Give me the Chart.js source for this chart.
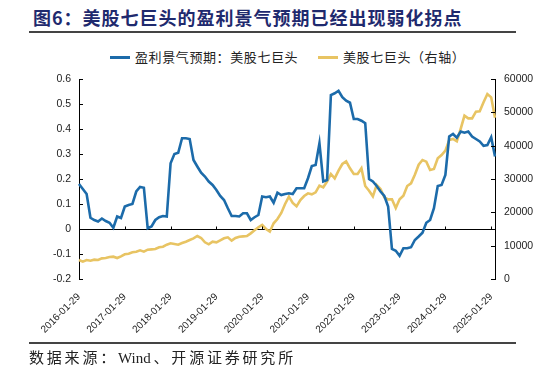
<!DOCTYPE html>
<html>
<head>
<meta charset="utf-8">
<script src="https://cdn.jsdelivr.net/npm/chart.js@4.4.1/dist/chart.umd.min.js"></script>
<style>
  body { margin: 0; background: #fff; }
  #wrap { position: relative; width: 546px; height: 374px; overflow: hidden; font-family: "Noto Sans CJK SC", sans-serif; }
  #titulo { position: absolute; left: 33px; top: 4px; font-size: 18px; font-weight: bold; color: #1f2a6e; letter-spacing: 1px; white-space: nowrap; }
  .regla { position: absolute; left: 29px; width: 487px; height: 1.5px; background: #444; }
  #leyenda { position: absolute; top: 47px; left: 0; width: 546px; font-size: 13px; letter-spacing: 0.6px; color: #222; white-space: nowrap; }
  #leyenda span.item { position: absolute; top: 0; }
  #leyenda i { display: inline-block; width: 20px; height: 3px; vertical-align: middle; margin-right: 5px; position: relative; top: -1px; }
  #fuente { position: absolute; left: 29px; top: 346px; font-size: 15px; color: #222; letter-spacing: 2.8px; white-space: nowrap; }
  #fuente b { font-family: "Liberation Serif", serif; font-weight: normal; letter-spacing: 0; margin-right: 2.8px; }
  canvas { position: absolute; left: 0; top: 0; }
</style>
</head>
<body>
<div id="wrap">
  <div id="titulo">图6：美股七巨头的盈利景气预期已经出现弱化拐点</div>
  <div class="regla" style="top:31px"></div>
  <div id="leyenda">
    <span class="item" style="left:110px"><i style="background:#1c6baa"></i>盈利景气预期：美股七巨头</span>
    <span class="item" style="left:318px"><i style="background:#e8c463"></i>美股七巨头（右轴）</span>
  </div>
  <canvas id="ch" width="546" height="374"></canvas>
  <div class="regla" style="top:342px"></div>
  <div id="fuente">数据来源：<b>Wind</b>、开源证券研究所</div>
</div>
<script>
(function () {
  'use strict';

  var AZUL = '#1c6baa';
  var AMARILLO = '#e8c463';

  // etiquetas del eje x que se muestran
  var YEAR_TICKS = ['2016-01-29', '2017-01-29', '2018-01-29', '2019-01-29', '2020-01-29',
    '2021-01-29', '2022-01-29', '2023-01-29', '2024-01-29', '2025-01-29'];

  //盈利景气预期：美股七巨头 (eje izquierdo), mensual desde 2016-01
  var EXPECTATIVA = [
    0.18, 0.16, 0.14, 0.045, 0.036, 0.03, 0.042, 0.032, 0.025, 0.005, 0.05, 0.044,
    0.09, 0.096, 0.10, 0.15, 0.168, 0.165, 0.003, 0.01, 0.036, 0.047, 0.052, 0.05,
    0.263, 0.30, 0.305, 0.363, 0.363, 0.36, 0.276, 0.25, 0.225, 0.21, 0.19, 0.176,
    0.156, 0.132, 0.116, 0.083, 0.052, 0.052, 0.05, 0.063, 0.063, 0.036, 0.047, 0.056,
    0.13, 0.127, 0.13, 0.105, 0.145, 0.136, 0.14, 0.143, 0.14, 0.163, 0.163, 0.163,
    0.203, 0.252, 0.256, 0.343, 0.19, 0.196, 0.536, 0.543, 0.553, 0.527, 0.513, 0.505,
    0.44, 0.44, 0.433, 0.423, 0.20, 0.19, 0.172, 0.15, 0.132, 0.09, -0.08, -0.087,
    -0.107, -0.077, -0.077, -0.073, -0.044, -0.03, -0.015, 0.025, 0.036, 0.083, 0.172, 0.176,
    0.216, 0.37, 0.38, 0.365, 0.39, 0.385, 0.39, 0.37, 0.36, 0.35, 0.333, 0.336,
    0.367, 0.29
  ];

  // 美股七巨头 (eje derecho)
  var INDICE = [
    5700, 5200, 5700, 5500, 5800, 5700, 6200, 6300, 6600, 6700, 6300, 6800,
    7400, 7600, 8000, 8200, 8600, 8200, 8800, 8900, 9000, 9500, 9700, 10300,
    10700, 10500, 10300, 10800, 11200, 11700, 12200, 12900, 12300, 11000, 10400, 11200,
    11000, 11600, 12200, 12500, 11500, 12300, 12700, 12800, 12900, 13700, 14600, 15500,
    16200, 15000, 14200, 16700, 18000, 19800, 22500, 24700, 22800, 21800, 23700, 24900,
    25700, 25400, 26000, 28000, 27500, 29200, 31500, 30200, 32500, 34500, 35300, 33200,
    31500, 31500, 33200, 27900, 26500, 24800, 28200, 27000, 24500, 23900, 23900, 21300,
    23900, 25000, 27900, 28700, 31300, 34300, 35700, 35200, 32700, 33000, 36200, 37200,
    38500, 41700, 42000, 41300, 45000, 49000, 48200, 48200, 50200, 50300, 53000, 55500,
    54500, 48400
  ];

  // fechas mensuales (dia 29) para el eje de categorias
  var FECHAS = [];
  for (var k = 0; k < EXPECTATIVA.length; k++) {
    var anio = 2016 + Math.floor(k / 12);
    var mes = (k % 12) + 1;
    FECHAS.push(anio + '-' + (mes < 10 ? '0' + mes : mes) + '-29');
  }

  // marcas hacia dentro en los ejes y marcas sobre la linea del cero
  var marcas = {
    id: 'marcas',
    afterDraw: function (chart) {
      var c = chart.ctx, a = chart.chartArea;
      var yl = chart.scales.y, yr = chart.scales.y2, x = chart.scales.x;
      c.save();
      c.strokeStyle = '#000';
      c.lineWidth = 1;
      c.beginPath();
      yl.ticks.forEach(function (t) {
        var p = Math.round(yl.getPixelForValue(t.value)) + 0.5;
        c.moveTo(a.left, p); c.lineTo(a.left + 4, p);
      });
      yr.ticks.forEach(function (t) {
        var p = Math.round(yr.getPixelForValue(t.value)) + 0.5;
        c.moveTo(a.right, p); c.lineTo(a.right - 4, p);
      });
      var y0 = Math.round(yl.getPixelForValue(0)) + 0.5;
      YEAR_TICKS.forEach(function (lab) {
        var i = FECHAS.indexOf(lab);
        if (i < 0) return;
        var px = Math.round(x.getPixelForValue(i)) + 0.5;
        c.moveTo(px, y0); c.lineTo(px, y0 - 3);
      });
      c.stroke();
      c.restore();
    }
  };

  new Chart(document.getElementById('ch'), {
    type: 'line',
    data: {
      labels: FECHAS,
      datasets: [
        { label: '盈利景气预期：美股七巨头', data: EXPECTATIVA, yAxisID: 'y', borderColor: AZUL, borderWidth: 2.6, pointRadius: 0, tension: 0 },
        { label: '美股七巨头（右轴）', data: INDICE, yAxisID: 'y2', borderColor: AMARILLO, borderWidth: 2.6, pointRadius: 0, tension: 0 }
      ]
    },
    options: {
      responsive: false,
      animation: false,
      devicePixelRatio: 1,
      layout: { padding: { top: 79, left: 0, right: 0, bottom: 0 } },
      plugins: { legend: { display: false }, tooltip: { enabled: false } },
      scales: {
        x: {
          grid: { display: false },
          border: { display: false },
          afterFit: function (s) { s.height = 95; },
          ticks: {
            autoSkip: false, maxRotation: 45, minRotation: 45, padding: 4,
            color: '#222', font: { family: 'Liberation Sans', size: 10 },
            callback: function (v) {
              var lab = FECHAS[v];
              return YEAR_TICKS.indexOf(lab) >= 0 ? lab : null;
            }
          }
        },
        y: {
          position: 'left', min: -0.2, max: 0.6,
          afterFit: function (s) { s.width = 79; },
          border: { display: true, color: '#000', width: 1 },
          grid: {
            drawTicks: false,
            color: function (ctx) { return ctx.tick && ctx.tick.value === 0 ? '#000' : 'rgba(0,0,0,0)'; },
            lineWidth: 1
          },
          ticks: {
            stepSize: 0.1, padding: 8, color: '#222', font: { family: 'Liberation Sans', size: 10.5 },
            callback: function (v) { return Math.abs(v) < 1e-9 ? '0' : v.toFixed(1); }
          }
        },
        y2: {
          position: 'right', min: 0, max: 60000,
          afterFit: function (s) { s.width = 51; },
          border: { display: true, color: '#000', width: 1 },
          grid: { display: false, drawTicks: false },
          ticks: {
            stepSize: 10000, padding: 9, color: '#222', font: { family: 'Liberation Sans', size: 10.5 },
            callback: function (v) { return String(v); }
          }
        }
      }
    },
    plugins: [marcas]
  });
})();
</script>
</body>
</html>
